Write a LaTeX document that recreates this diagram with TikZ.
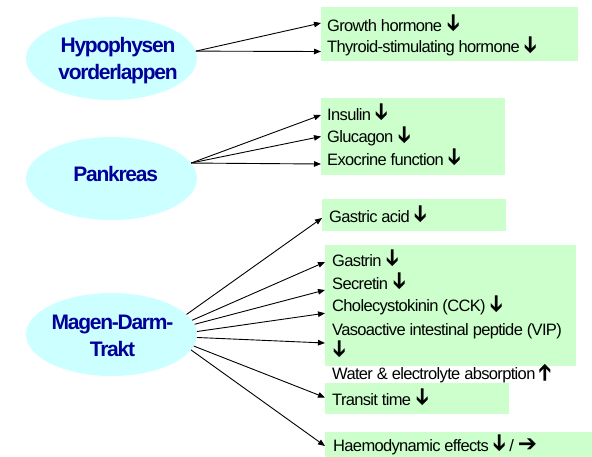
\documentclass[tikz,border=0pt]{standalone}
\usepackage{fontspec}
\usepackage{graphicx}
\usetikzlibrary{shapes.geometric,arrows.meta,calc}
\setmainfont{Liberation Sans}
\newfontfamily\itemfont{Liberation Sans}[LetterSpace=-4]
\newfontfamily\organfont{Liberation Sans}[LetterSpace=-6]
\newfontfamily\arrowfont{DejaVu Sans}
\newcommand\arrglyph{{\arrowfont\bfseries\fontsize{23}{23}\selectfont ➔}}
\newcommand\arrright{\raisebox{0pt}{\arrglyph}}
\newcommand\arrdown{\raisebox{1.5pt}{\rotatebox[origin=c]{-90}{\arrglyph}}}
\newcommand\arrup{\raisebox{0pt}{\rotatebox[origin=c]{90}{\arrglyph}}}
\definecolor{organfill}{RGB}{204,255,255}
\definecolor{organblue}{RGB}{0,0,153}
\definecolor{effgreen}{RGB}{204,255,204}
\begin{document}
\begin{tikzpicture}[x=1pt,y=-1pt,
  organ/.style={ellipse, fill=organfill, minimum width=171pt, minimum height=83pt, inner sep=0pt},
  organtext/.style={font=\organfont\bfseries\fontsize{21}{27}\selectfont, text=organblue, align=center, inner sep=0pt},
  greenbox/.style={fill=effgreen, inner sep=0pt, anchor=north west},
  item/.style={font=\itemfont\fontsize{16.5}{22.5}\selectfont, anchor=base west, inner xsep=6pt, inner ysep=0pt},
  conn/.style={line width=0.9pt, -{Triangle[length=7pt,width=5.5pt]}}]
\useasboundingbox (0,0) rectangle (592,456);

% organs
\node[organ] (hyp) at (111.5,58.5) {};
\node[organtext] (hypt) at (118,61) {Hypophysen\\vorderlappen};
\node[organ] (pan) at (111.5,178.5) {};
\node[organtext, anchor=base] (pant) at (115.7,181) {Pankreas};
\node[organ] (mag) at (111.5,334.5) {};
\node[organtext] (magt) at (112.5,336) {Magen-Darm-\\Trakt};

% green boxes
\node[greenbox, minimum width=257pt, minimum height=54pt] (b1) at (321,7) {};
\node[greenbox, minimum width=184pt, minimum height=77pt] (b2) at (321,98) {};
\node[greenbox, minimum width=184pt, minimum height=32pt] (b3) at (322,199) {};
\node[greenbox, minimum width=251pt, minimum height=121pt] (b4) at (325,245) {};
\node[greenbox, minimum width=184pt, minimum height=31pt] (b5) at (325,383) {};
\node[greenbox, minimum width=267pt, minimum height=25pt] (b6) at (325,431.5) {};

% items
\node[item] (gh) at (321,31) {Growth hormone \arrdown};
\node[item] (tsh) at (321,52.5) {Thyroid-stimulating hormone \arrdown};
\node[item] (ins) at (321,120) {Insulin \arrdown};
\node[item] (glu) at (321,142.5) {Glucagon \arrdown};
\node[item] (exo) at (321,165) {Exocrine function \arrdown};
\node[item, inner xsep=7pt] (gac) at (322,222) {Gastric acid \arrdown};
\node[item, inner xsep=7pt] (gas) at (325,266) {Gastrin \arrdown};
\node[item, inner xsep=7pt] (sec) at (325,289) {Secretin \arrdown};
\node[item, inner xsep=7pt] (cck) at (325,311.7) {Cholecystokinin (CCK) \arrdown};
\node[item, inner xsep=7pt] (vip) at (325,335) {Vasoactive intestinal peptide (VIP)};
\node[item, inner xsep=7pt] (vipa) at (325,357) {\arrdown};
\node[item, inner xsep=7pt] (wat) at (325,379.3) {Water \& electrolyte absorption \arrup};
\node[item, inner xsep=7pt] (tra) at (325,405) {Transit time \arrdown};
\node[item, inner xsep=8pt] (hae) at (325,451) {Haemodynamic effects \arrdown\ / \arrright};

% connectors
\draw[conn] (hyp.5) -- ($(gh.base west)+(0,-8)$);
\draw[conn] (hyp.5) -- ($(tsh.base west)+(0,-1)$);
\draw[conn] (pan.11) -- ($(ins.base west)+(0,-5)$);
\draw[conn] (pan.11) -- ($(glu.base west)+(0,-6)$);
\draw[conn] (pan.11) -- ($(exo.base west)+(0,-1)$);
\draw[conn] (mag.15) -- ($(gac.base west)+(0,-4)$);
\draw[conn] (mag.10) -- ($(gas.base west)+(0,-4)$);
\draw[conn] (mag.7) -- ($(sec.base west)+(0,1)$);
\draw[conn] (mag.2) -- ($(cck.base west)+(0,1.5)$);
\draw[conn] (mag.-2) -- ($(vip.base west)+(0,8)$);
\draw[conn] (mag.-8) -- ($(tra.base west)+(0,-7.5)$);
\draw[conn] (mag.-11) -- ($(hae.base west)+(0,-5)$);
\end{tikzpicture}
\end{document}
